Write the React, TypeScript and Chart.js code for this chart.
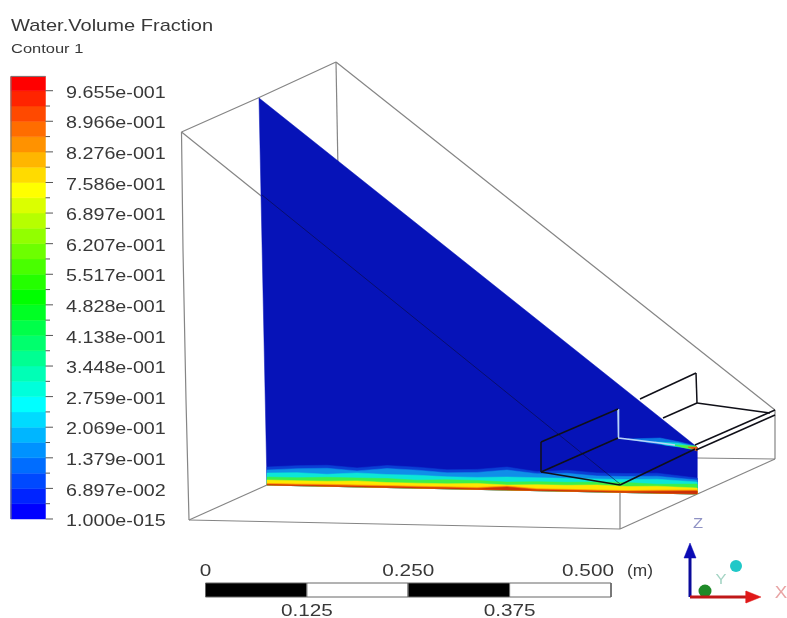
import React, { useEffect, useRef } from "react";
import { Chart, registerables } from "chart.js";

Chart.register(...registerables);

type P = [number, number];

const titleText = "Water.Volume Fraction";
const subtitleText = "Contour 1";

// Contour legend (values and colours, bottom to top)
const legendTickValues = [0, 0.06897, 0.1379, 0.2069, 0.2759, 0.3448, 0.4138, 0.4828, 0.5517, 0.6207, 0.6897, 0.7586, 0.8276, 0.8966, 0.9655];
const legendTickLabels = ["1.000e-015", "6.897e-002", "1.379e-001", "2.069e-001", "2.759e-001", "3.448e-001", "4.138e-001", "4.828e-001", "5.517e-001", "6.207e-001", "6.897e-001", "7.586e-001", "8.276e-001", "8.966e-001", "9.655e-001"];
const legendBandEdges = [0, 0.03448, 0.06897, 0.1034, 0.1379, 0.1724, 0.2069, 0.2414, 0.2759, 0.3103, 0.3448, 0.3793, 0.4138, 0.4483, 0.4828, 0.5172, 0.5517, 0.5862, 0.6207, 0.6552, 0.6897, 0.7241, 0.7586, 0.7931, 0.8276, 0.8621, 0.8966, 0.9310, 0.9655, 0.9977];
const legendBandColors = [
  "#0000ff", "#0024ff", "#0049ff", "#006dff", "#0092ff", "#00b6ff", "#00dbff", "#00ffff",
  "#00ffdb", "#00ffb6", "#00ff92", "#00ff6d", "#00ff49", "#00ff24", "#00ff00",
  "#24ff00", "#49ff00", "#6dff00", "#92ff00", "#b6ff00", "#dbff00", "#ffff00",
  "#ffdb00", "#ffb600", "#ff9200", "#ff6d00", "#ff4900", "#ff2400", "#ff0000",
];

// Length scale bar
const scaleEdges = [0, 0.125, 0.25, 0.375, 0.5];
const scaleFill = ["#000000", "#ffffff", "#000000", "#ffffff"];
const scaleUpperValues = [0, 0.25, 0.5];
const scaleUpperLabels = ["0", "0.250", "0.500"];
const scaleLowerValues = [0.125, 0.375];
const scaleLowerLabels = ["0.125", "0.375"];

// Domain wireframe
const frameEdges: P[][] = [
  [[181.5, 132], [258, 98], [336, 62]],
  [[181.5, 132], [620, 484]],
  [[336, 62], [775, 410]],
  [[181.5, 132], [183, 250], [186, 400], [189, 520]],
  [[336, 62], [338, 170]],
  [[189, 520], [620, 529]],
  [[189, 520], [267, 485]],
  [[620, 485], [620, 529]],
  [[620, 529], [775, 459]],
  [[775, 410], [775, 459]],
  [[697, 458], [775, 459]],
];
const waterSheet: P[] = [[259, 98], [697, 447], [697, 494], [267, 485]];
const waterBase: P[] = [[267, 485], [697, 494]];
const hiddenEdges: P[][] = [[[262, 195], [620, 484]]];

// Free-surface layers above the channel floor
const waveX = [267, 297, 327, 357, 387, 417, 447, 477, 507, 537, 567, 597, 627, 657, 697];
const deepHeights = [18, 20, 21, 19, 22, 21, 19, 20, 23, 19, 21, 19, 19, 20, 16];
const skyHeights = [15, 17, 18, 16, 19, 18, 16, 17, 20, 17, 18, 16, 16, 17, 14];
const cyanHeights = [12, 13, 12, 14, 13, 13, 12, 12, 13, 13, 13, 13, 13, 14, 12];
const greenHeights = [8, 8, 9, 9, 9, 8, 9, 9, 8, 9, 9, 10, 10, 9, 10];
const yellowHeights = [5, 5, 5, 6, 5, 5, 5, 6, 5, 6, 6, 7, 6, 7, 6];
const orangeHeights = [1.6, 1.6, 2, 2, 2, 2, 2, 2, 4, 2, 2, 2, 2, 3, 4];
const redHeights = [0.6, 0.6, 0.8, 0.8, 1, 1, 1, 1, 3, 1, 1, 1, 1, 2, 3];
const layerColors = ["#0a3ed4", "#0f8fe8", "#0ce6d8", "#3cf04a", "#fde800", "#ff8a00", "#c8300a"];

// Outlet jet at the far end
const jetSky: P[] = [[628, 439], [660, 438], [680, 442], [696, 446], [695, 449], [650, 443]];
const jetCyan: P[] = [[655, 442], [678, 443], [696, 447], [695, 449], [665, 445]];
const jetGreen: P[] = [[674, 445], [696, 446], [696, 450], [685, 448]];
const jetRed: P[] = [[688, 447], [697, 447], [697, 451]];
const jetLine: P[] = [[618, 409], [618.5, 438], [660, 443], [675, 445]];

// Outlet box
const boxEdges: P[][] = [
  [[541, 442], [618, 409]],
  [[541, 442], [541, 472]],
  [[541, 472], [620, 485]],
  [[541, 472], [618, 438]],
  [[620, 485], [695, 449]],
  [[695, 445], [775, 410]],
  [[696, 450], [775, 415]],
  [[640, 399], [696, 373]],
  [[696, 373], [697, 403]],
  [[663, 418], [697, 403]],
  [[697, 403], [770, 413]],
];

// Orientation triad
const axisZ: P[] = [[690, 597], [690, 553]];
const axisX: P[] = [[690, 597], [750, 597]];
const arrowZ: P[] = [[690, 543], [696, 558], [684, 558]];
const arrowX: P[] = [[761, 597], [746, 591], [746, 603]];
const sphereGreen: P[] = [[705, 591]];
const sphereCyan: P[] = [[736, 566]];

const xy = (pts: P[]) => pts.map(([x, y]) => ({ x, y }));

export default function App() {
  const ref = useRef<HTMLCanvasElement | null>(null);

  useEffect(() => {
    const ds: any[] = [];
    const line = (pts: P[], color: string, width = 1.2, extra: any = {}) =>
      ds.push({ data: xy(pts), borderColor: color, borderWidth: width, showLine: true, pointRadius: 0, fill: false, tension: 0, ...extra });
    const poly = (pts: P[], color: string, extra: any = {}) =>
      ds.push({ data: xy([...pts, pts[0]]), borderColor: color, backgroundColor: color, borderWidth: 0.5, showLine: true, pointRadius: 0, fill: "shape", tension: 0, ...extra });

    frameEdges.forEach((e) => line(e, "#858585"));
    poly(waterSheet, "#0613b8");

    const floorY = (x: number) => {
      const [[x0, y0], [x1, y1]] = waterBase;
      return y0 + ((x - x0) / (x1 - x0)) * (y1 - y0);
    };
    [deepHeights, skyHeights, cyanHeights, greenHeights, yellowHeights, orangeHeights, redHeights].forEach((hs, i) => {
      const top: P[] = waveX.map((x, k) => [x, floorY(x) - hs[k]]);
      poly([...top, waterBase[1], waterBase[0]], layerColors[i]);
    });

    poly(jetSky, "#0a78e4");
    poly(jetCyan, "#10dcd8");
    poly(jetGreen, "#50f040");
    poly(jetRed, "#e85a10");
    line(jetLine, "#b8d4f8", 1.6);
    hiddenEdges.forEach((e) => line(e, "rgba(10,10,60,0.6)", 1));
    boxEdges.forEach((e) => line(e, "#101018", 1.5));

    // Legend bands on the value scale
    legendBandColors.forEach((c, i) => {
      const a = legendBandEdges[i];
      const b = legendBandEdges[i + 1];
      poly([[11, a], [45.5, a], [45.5, b], [11, b]], c, { yAxisID: "yVal" });
    });
    const tickPts: any[] = [];
    legendBandEdges.slice(0, 29).forEach((v, i) => {
      tickPts.push({ x: 45.5, y: v }, { x: i % 2 === 0 ? 53 : 50, y: v }, { x: 45.5, y: NaN });
    });
    ds.push({ data: tickPts, yAxisID: "yVal", borderColor: "#555", borderWidth: 1, showLine: true, pointRadius: 0, fill: false, spanGaps: false });
    line([[11, 0], [11, 0.9977], [45.5, 0.9977]], "#777", 1, { yAxisID: "yVal" });

    // Scale bar on the metre scale
    scaleFill.forEach((c, i) => {
      const a = scaleEdges[i];
      const b = scaleEdges[i + 1];
      ds.push({
        data: xy([[a, 583], [b, 583], [b, 597], [a, 597], [a, 583]]),
        xAxisID: "xM", borderColor: "#666", borderWidth: 1, backgroundColor: c,
        showLine: true, pointRadius: 0, fill: "shape", tension: 0,
      });
    });

    // Triad
    ds.push({ data: xy(sphereGreen), pointRadius: 6.5, pointBackgroundColor: "#1f8a28", pointBorderWidth: 0, showLine: false });
    ds.push({ data: xy(sphereCyan), pointRadius: 6, pointBackgroundColor: "#20c8c8", pointBorderWidth: 0, showLine: false });
    line(axisZ, "#0a0a9a", 3);
    line(axisX, "#c01818", 3);
    poly(arrowZ, "#0a0ab4");
    poly(arrowX, "#e01818");
    ds.forEach((d, i) => (d.order = ds.length - i));

    const textPlugin = {
      id: "sceneText",
      afterDatasetsDraw(chart: any) {
        const { ctx, scales } = chart;
        const put = (s: string, x: number, y: number, size: number, stretch: number, align: CanvasTextAlign = "left", color = "#383838") => {
          ctx.save();
          ctx.font = `${size}px "Liberation Sans", Arial, sans-serif`;
          ctx.fillStyle = color;
          ctx.textAlign = align;
          ctx.textBaseline = "middle";
          ctx.translate(x, y);
          ctx.scale(stretch, 1);
          ctx.fillText(s, 0, 0);
          ctx.restore();
        };
        put(titleText, 11, 26, 17, 1.18);
        put(subtitleText, 11, 49, 13.5, 1.22);
        legendTickValues.forEach((v, i) => put(legendTickLabels[i], 66, scales.yVal.getPixelForValue(v) + 2.5, 17, 1.16));
        scaleUpperValues.forEach((v, i) => {
          const px = scales.xM.getPixelForValue(v);
          put(scaleUpperLabels[i], i === 2 ? px - 23 : px, 571, 17, 1.22, "center");
        });
        scaleLowerValues.forEach((v, i) => put(scaleLowerLabels[i], scales.xM.getPixelForValue(v), 611, 17, 1.22, "center"));
        put("(m)", 640, 571, 17, 1.02, "center");
        put("Z", 698, 524, 15, 1.1, "center", "#8f92c4");
        put("Y", 721, 580, 15, 1.1, "center", "#a4d4c4");
        put("X", 781, 593, 17, 1.1, "center", "#e8a4a4");
      },
    };

    const chart = new Chart(ref.current as HTMLCanvasElement, {
      type: "scatter",
      data: { datasets: ds },
      plugins: [textPlugin],
      options: {
        animation: false,
        responsive: false,
        layout: { padding: 0, autoPadding: false },
        plugins: { legend: { display: false }, tooltip: { enabled: false }, title: { display: false } },
        scales: {
          x: { type: "linear", display: false, min: 0, max: 787 },
          y: { type: "linear", display: false, min: 0, max: 618, reverse: true },
          xM: { type: "linear", display: false, axis: "x", min: -0.2534, max: 0.717 },
          yVal: { type: "linear", display: false, axis: "y", min: -0.2232, max: 1.17 },
        },
      },
    } as any);
    return () => chart.destroy();
  }, []);

  return (
    <div style={{ position: "absolute", left: 0, top: 0, width: 787, height: 618, background: "#fff" }}>
      <canvas ref={ref} width={787} height={618} style={{ display: "block" }} />
    </div>
  );
}
